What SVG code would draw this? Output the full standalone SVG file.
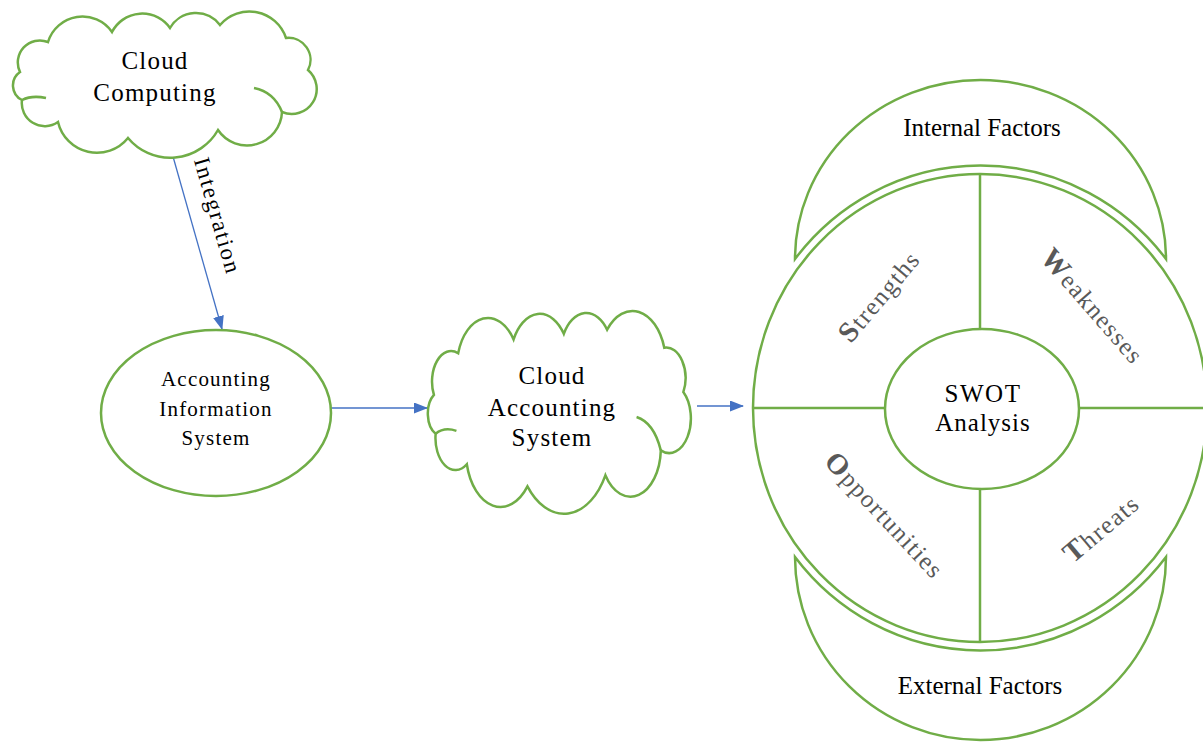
<svg xmlns="http://www.w3.org/2000/svg" width="1203" height="743" viewBox="0 0 1203 743">
<defs>
<style>
.g{fill:none;stroke:#70AD47;stroke-width:2.5}
.cl{fill:#fff;stroke:#70AD47;stroke-width:2.5;vector-effect:non-scaling-stroke}
.sm{fill:none;stroke:#70AD47;stroke-width:2.5;vector-effect:non-scaling-stroke}
.t{font-family:"Liberation Serif","Times New Roman",serif;fill:#000;text-anchor:middle}
.q{font-family:"Liberation Serif","Times New Roman",serif;fill:#595959;text-anchor:middle;font-size:25px;letter-spacing:1.5px}
.q tspan.b{font-weight:bold;font-size:29px}
.a{stroke:#4472C4;stroke-width:1.3;fill:none;marker-end:url(#ah)}
</style>
<marker id="ah" viewBox="0 0 14 11" refX="13" refY="5.5" markerWidth="14" markerHeight="11" markerUnits="userSpaceOnUse" orient="auto">
<path d="M0,0 L14,5.5 L0,11 Z" fill="#4472C4"/>
</marker>
</defs>
<rect width="1203" height="743" fill="#fff"/>

<g id="connectors">
<line class="a" x1="172" y1="153" x2="222" y2="329"/>
<line class="a" x1="331" y1="408" x2="427" y2="408"/>
<line class="a" x1="697" y1="406" x2="743" y2="406"/>
<text class="t" font-size="23" letter-spacing="1.8" transform="translate(217,216) rotate(74)" y="7">Integration</text>
</g>

<g id="cloud-computing">
<path class="cl" d="M20,72 A22,22 0 0 1 48,42 A36,36 0 0 1 112,32 A34,34 0 0 1 170,28 A30,30 0 0 1 220,25 A38.6,38.6 0 0 1 286,38 A22,22 0 0 1 308,70 A25,25 0 0 1 282,112 A35,35 0 0 1 218,130 A55,55 0 0 1 128,138 A40,40 0 0 1 58,122 A23,23 0 0 1 22,100 A16.3,16.3 0 0 1 20,72 Z"/>
<path class="sm" d="M22,100 Q32,95 46,98 M254,88 Q274,92 282,112"/>
<text class="t" font-size="25" letter-spacing="1.2" x="155" y="69">Cloud</text>
<text class="t" font-size="25" letter-spacing="1.2" x="155" y="101">Computing</text>
</g>

<g id="ais">
<ellipse class="g" cx="216" cy="413" rx="115" ry="83"/>
<text class="t" font-size="21" letter-spacing="1.2" x="216" y="386">Accounting</text>
<text class="t" font-size="21" letter-spacing="1.2" x="216" y="416">Information</text>
<text class="t" font-size="21" letter-spacing="1.2" x="216" y="445">System</text>
</g>

<g id="cloud-accounting">
<g transform="translate(416.6,295) scale(0.866,1.387)">
<path class="cl" d="M20,72 A22,22 0 0 1 48,42 A36,36 0 0 1 112,32 A34,34 0 0 1 170,28 A30,30 0 0 1 220,25 A38.6,38.6 0 0 1 286,38 A22,22 0 0 1 308,70 A25,25 0 0 1 282,112 A35,35 0 0 1 218,130 A55,55 0 0 1 128,138 A40,40 0 0 1 58,122 A23,23 0 0 1 22,100 A16.3,16.3 0 0 1 20,72 Z"/>
<path class="sm" d="M22,100 Q32,95 46,98 M254,88 Q274,92 282,112"/>
</g>
<text class="t" font-size="25" letter-spacing="1.2" x="552" y="384">Cloud</text>
<text class="t" font-size="25" letter-spacing="1.2" x="552" y="416">Accounting</text>
<text class="t" font-size="25" letter-spacing="1.2" x="552" y="446">System</text>
</g>

<g id="internal-factors">
<path class="g" d="M795,259 A185.5,179 0 0 1 1166,259 A235,242 0 0 0 795,259 Z"/>
<text class="t" font-size="25" x="982" y="136">Internal Factors</text>
</g>

<g id="external-factors">
<path class="g" d="M795,557 A185.5,183 0 0 0 1166,557 A235,242 0 0 1 795,557 Z"/>
<text class="t" font-size="25" x="980" y="694">External Factors</text>
</g>

<g id="swot">
<ellipse class="g" cx="980" cy="408" rx="227" ry="234"/>
<line class="g" x1="753" y1="408" x2="885" y2="408"/>
<line class="g" x1="1079" y1="408" x2="1207" y2="408"/>
<line class="g" x1="980" y1="174" x2="980" y2="329"/>
<line class="g" x1="980" y1="489" x2="980" y2="642"/>
<ellipse class="g" cx="982" cy="409" rx="97" ry="80"/>
<text class="t" font-size="25" letter-spacing="1.5" x="983" y="402">SWOT</text>
<text class="t" font-size="25" letter-spacing="1" x="983" y="431">Analysis</text>
</g>

<g id="strengths"><text class="q" transform="translate(880,297) rotate(-50)" y="8"><tspan class="b">S</tspan>trengths</text></g>
<g id="weaknesses"><text class="q" transform="translate(1092,307) rotate(49)" y="8"><tspan class="b">W</tspan>eaknesses</text></g>
<g id="opportunities"><text class="q" transform="translate(884,516) rotate(47)" y="8"><tspan class="b">O</tspan>pportunities</text></g>
<g id="threats"><text class="q" transform="translate(1102,529) rotate(-40)" y="8"><tspan class="b">T</tspan>hreats</text></g>
</svg>
